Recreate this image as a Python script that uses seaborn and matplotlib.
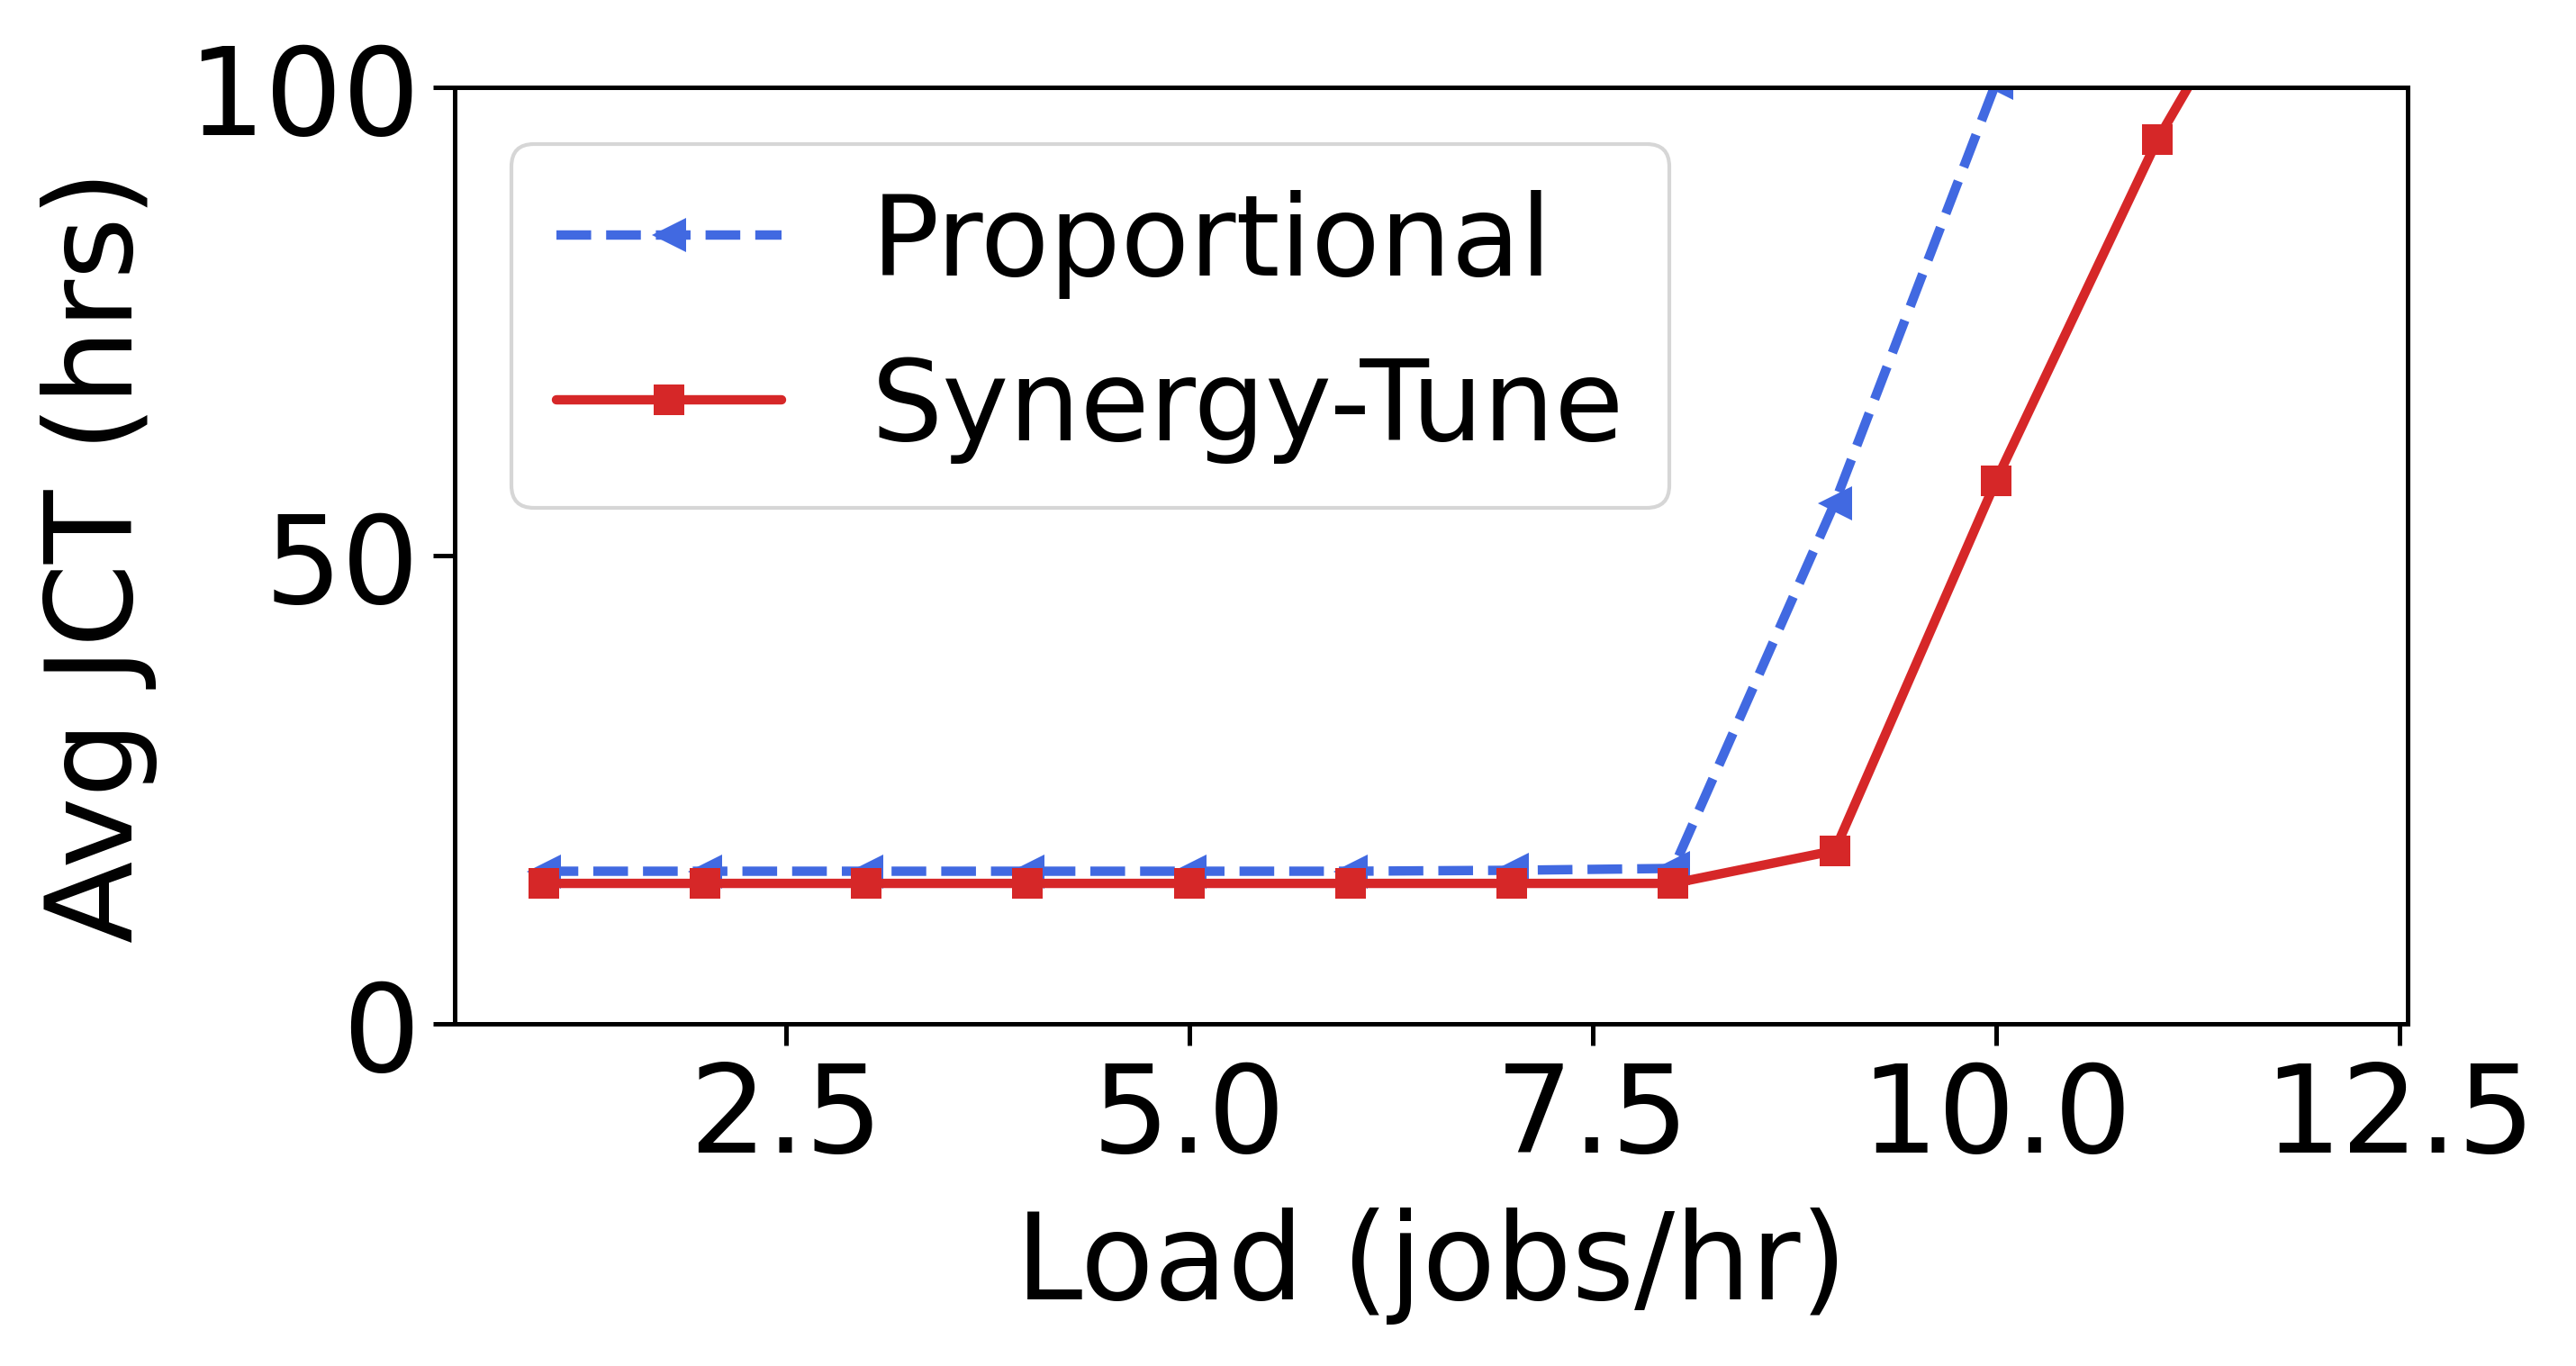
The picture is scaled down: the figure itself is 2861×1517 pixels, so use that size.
import matplotlib
matplotlib.use("Agg")
import matplotlib.pyplot as plt
import seaborn as sns
import pandas as pd

load = [1, 2, 3, 4, 5, 6, 7, 8, 9, 10, 11, 12]
proportional = [16.3, 16.3, 16.3, 16.3, 16.3, 16.3, 16.4, 16.6, 55.6, 100.5, 150.0, 200.0]
synergy_tune = [15.0, 15.0, 15.0, 15.0, 15.0, 15.0, 15.0, 15.0, 18.5, 58.0, 94.4, 124.0]
series_names = ["Proportional", "Synergy-Tune"]

sns.set_style("ticks")
plt.rcParams['font.family'] = ['DejaVu Sans']
for k in ["text.color", "axes.labelcolor", "xtick.color", "ytick.color", "axes.edgecolor"]:
    plt.rcParams[k] = "black"

df = pd.DataFrame({
    "load": load * 2,
    "jct": proportional + synergy_tune,
    "series": [series_names[0]] * len(load) + [series_names[1]] * len(load),
})

fig = plt.figure(figsize=(9.54, 5.06), dpi=300)
ax = fig.add_axes([0.1765, 0.2503, 0.7578, 0.6851])

sns.lineplot(data=df[df.series == series_names[0]], x="load", y="jct", ax=ax,
             color="#4169E1", linestyle="--", marker="<", markersize=9.2,
             markeredgewidth=0, linewidth=2.5, label=series_names[0])
sns.lineplot(data=df[df.series == series_names[1]], x="load", y="jct", ax=ax,
             color="#d62728", linestyle="-", marker="s", markersize=8.2,
             markeredgewidth=0, linewidth=2.5, label=series_names[1])

ax.set_ylim(0, 100)
ax.set_yticks([0, 50, 100])
ax.set_xlim(0.45, 12.55)
ax.set_xticks([2.5, 5.0, 7.5, 10.0, 12.5])
ax.set_xticklabels(["2.5", "5.0", "7.5", "10.0", "12.5"])
ax.tick_params(labelsize=32.5, width=1.2, length=5.8, colors="black")
for s in ax.spines.values():
    s.set_linewidth(1.2)
    s.set_visible(True)
    s.set_color("black")
ax.set_xlabel("Load (jobs/hr)", fontsize=32, labelpad=8)
ax.set_ylabel("Avg JCT (hrs)", fontsize=32, labelpad=8)
leg = ax.legend(loc="upper left", fontsize=30, frameon=True, handlelength=2.0)
fig.savefig("out.png", dpi=300)
